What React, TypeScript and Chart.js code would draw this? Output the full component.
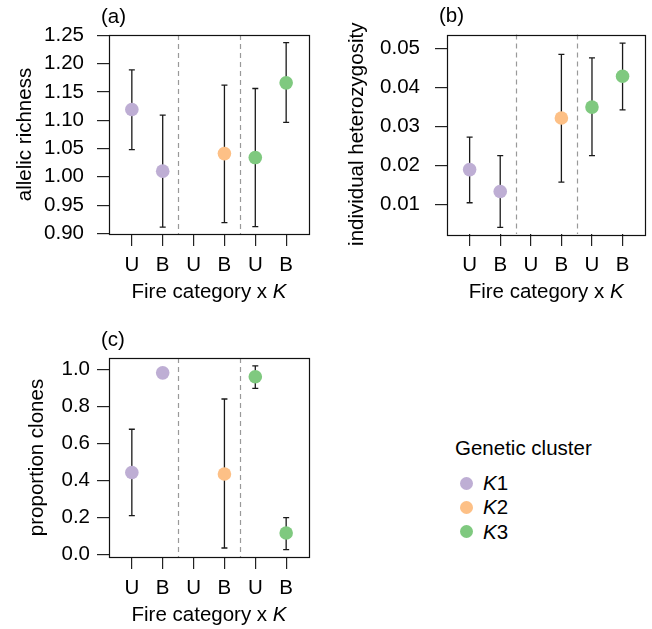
import React, { useEffect, useRef } from 'react';
import { Chart, registerables } from 'chart.js';
Chart.register(...registerables);

const FONT = '"Liberation Sans", Arial, Helvetica, sans-serif';
const FS = 20.5;

// shared x-axis
const positions = [1, 2, 3, 4, 5, 6];
const xLabels = ['U', 'B', 'U', 'B', 'U', 'B'];
const dividers = [2.5, 4.5];
const clusterNames = ['1', '2', '3'];
const clusterColors = ['#BEAED4', '#FDC086', '#7FC97F'];

// Panel (a) allelic richness
const aK1x = [1, 2];
const aK1mean = [1.119, 1.01];
const aK1lo = [1.048, 0.911];
const aK1hi = [1.189, 1.109];
const aK2x = [4];
const aK2mean = [1.041];
const aK2lo = [0.919];
const aK2hi = [1.162];
const aK3x = [5, 6];
const aK3mean = [1.034, 1.166];
const aK3lo = [0.912, 1.096];
const aK3hi = [1.156, 1.237];
const aYTicks = [0.9, 0.95, 1.0, 1.05, 1.1, 1.15, 1.2, 1.25];
const aYLabels = ['0.90', '0.95', '1.00', '1.05', '1.10', '1.15', '1.20', '1.25'];

// Panel (b) individual heterozygosity
const bK1x = [1, 2];
const bK1mean = [0.019, 0.0134];
const bK1lo = [0.0105, 0.0042];
const bK1hi = [0.0273, 0.0226];
const bK2x = [4];
const bK2mean = [0.0322];
const bK2lo = [0.0158];
const bK2hi = [0.0485];
const bK3x = [5, 6];
const bK3mean = [0.035, 0.0429];
const bK3lo = [0.0226, 0.0343];
const bK3hi = [0.0476, 0.0514];
const bYTicks = [0.01, 0.02, 0.03, 0.04, 0.05];
const bYLabels = ['0.01', '0.02', '0.03', '0.04', '0.05'];

// Panel (c) proportion clones
const cK1x = [1, 2];
const cK1mean = [0.443, 0.98];
const cK1lo = [0.21, null];
const cK1hi = [0.676, null];
const cK2x = [4];
const cK2mean = [0.435];
const cK2lo = [0.036];
const cK2hi = [0.839];
const cK3x = [5, 6];
const cK3mean = [0.959, 0.117];
const cK3lo = [0.896, 0.027];
const cK3hi = [1.018, 0.2];
const cYTicks = [0.0, 0.2, 0.4, 0.6, 0.8, 1.0];
const cYLabels = ['0.0', '0.2', '0.4', '0.6', '0.8', '1.0'];

type Series = { x: number[]; mean: number[]; lo: (number | null)[]; hi: (number | null)[] };

function makeDatasets(series: Series[]) {
  return series.map((s, i) => ({
    label: 'K' + clusterNames[i],
    data: s.x.map((xv, j) => ({ x: xv, y: s.mean[j], lo: s.lo[j], hi: s.hi[j] })),
    backgroundColor: clusterColors[i],
    borderWidth: 0,
    pointRadius: 6.8,
    pointHoverRadius: 6.8,
    showLine: false,
  }));
}

type PanelCfg = {
  left: number; top: number; width: number; height: number;
  pad: { left: number; top: number; right: number; bottom: number };
  yWidth: number; xHeight: number;
  yMin: number; yMax: number; yTicks: number[]; yLabels: string[]; yPad: number;
  letter: string; yTitle: string; yTitleOffset: number;
  series: Series[];
};

function decorPlugin(cfg: PanelCfg) {
  return {
    id: 'decor',
    beforeDatasetsDraw(chart: any) {
      const { ctx, chartArea: a, scales } = chart;
      const xs = scales.x, ys = scales.y;
      ctx.save();
      ctx.strokeStyle = '#999999';
      ctx.lineWidth = 1.2;
      ctx.setLineDash([5, 4]);
      dividers.forEach((d) => {
        const px = Math.round(xs.getPixelForValue(d)) + 0.5;
        ctx.beginPath();
        ctx.moveTo(px, a.top);
        ctx.lineTo(px, a.bottom);
        ctx.stroke();
      });
      ctx.setLineDash([]);
      ctx.strokeStyle = '#1a1a1a';
      ctx.lineWidth = 1.3;
      chart.data.datasets.forEach((ds: any) => {
        ds.data.forEach((p: any) => {
          if (p.lo == null || p.hi == null) return;
          const px = xs.getPixelForValue(p.x);
          const y1 = ys.getPixelForValue(p.lo);
          const y2 = ys.getPixelForValue(p.hi);
          ctx.beginPath();
          ctx.moveTo(px, y1);
          ctx.lineTo(px, y2);
          ctx.moveTo(px - 3, y1);
          ctx.lineTo(px + 3, y1);
          ctx.moveTo(px - 3, y2);
          ctx.lineTo(px + 3, y2);
          ctx.stroke();
        });
      });
      ctx.restore();
    },
    afterDraw(chart: any) {
      const { ctx, chartArea: a } = chart;
      ctx.save();
      ctx.strokeStyle = '#111';
      ctx.lineWidth = 1.2;
      ctx.strokeRect(Math.round(a.left) + 0.5, Math.round(a.top) + 0.5, Math.round(a.right - a.left), Math.round(a.bottom - a.top));
      ctx.fillStyle = '#000';
      // panel letter
      ctx.font = `${FS}px ${FONT}`;
      ctx.textAlign = 'left';
      ctx.textBaseline = 'middle';
      ctx.fillText(cfg.letter, a.left - 8, a.top - 18);
      // x title with italic K
      const t1 = 'Fire category x ';
      const w1 = ctx.measureText(t1).width;
      ctx.font = `italic ${FS}px ${FONT}`;
      const w2 = ctx.measureText('K').width;
      const cx = (a.left + a.right) / 2;
      const sx = cx - (w1 + w2) / 2;
      const ty = a.bottom + 58;
      ctx.font = `${FS}px ${FONT}`;
      ctx.fillText(t1, sx, ty);
      ctx.font = `italic ${FS}px ${FONT}`;
      ctx.fillText('K', sx + w1, ty);
      // y title
      ctx.font = `${FS}px ${FONT}`;
      ctx.translate(a.left + cfg.yTitleOffset, (a.top + a.bottom) / 2);
      ctx.rotate(-Math.PI / 2);
      ctx.textAlign = 'center';
      ctx.textBaseline = 'middle';
      ctx.fillText(cfg.yTitle, 0, 0);
      ctx.restore();
    },
  };
}

function Panel({ cfg }: { cfg: PanelCfg }) {
  const ref = useRef<HTMLCanvasElement>(null);
  useEffect(() => {
    if (!ref.current) return;
    const chart = new Chart(ref.current, {
      type: 'scatter',
      data: { datasets: makeDatasets(cfg.series) as any },
      options: {
        animation: false,
        responsive: false,
        devicePixelRatio: 1,
        events: [],
        layout: { padding: cfg.pad },
        plugins: { legend: { display: false }, tooltip: { enabled: false } },
        scales: {
          x: {
            type: 'linear',
            min: 0.26,
            max: 6.74,
            afterBuildTicks: (s: any) => { s.ticks = positions.map((v) => ({ value: v })); },
            afterFit: (s: any) => { s.height = cfg.xHeight; },
            ticks: {
              autoSkip: false,
              maxRotation: 0,
              padding: 7,
              color: '#000',
              font: { family: FONT, size: FS },
              callback: (v: any) => xLabels[positions.indexOf(Number(v))] ?? '',
            },
            grid: { drawOnChartArea: false, drawTicks: true, tickLength: 12, color: '#222', lineWidth: 1.2 },
            border: { display: false },
          },
          y: {
            type: 'linear',
            min: cfg.yMin,
            max: cfg.yMax,
            afterBuildTicks: (s: any) => { s.ticks = cfg.yTicks.map((v) => ({ value: v })); },
            afterFit: (s: any) => { s.width = cfg.yWidth; },
            ticks: {
              autoSkip: false,
              padding: cfg.yPad,
              color: '#000',
              font: { family: FONT, size: FS },
              callback: (v: any, i: number) => cfg.yLabels[i] ?? '',
            },
            grid: { drawOnChartArea: false, drawTicks: true, tickLength: 12, color: '#222', lineWidth: 1.2 },
            border: { display: false },
          },
        },
      },
      plugins: [decorPlugin(cfg)],
    });
    return () => chart.destroy();
  }, [cfg]);
  return (
    <canvas
      ref={ref}
      width={cfg.width}
      height={cfg.height}
      style={{ position: 'absolute', left: cfg.left, top: cfg.top, width: cfg.width, height: cfg.height }}
    />
  );
}

const panelA: PanelCfg = {
  left: 0, top: 0, width: 326, height: 314,
  pad: { left: 0, top: 35, right: 17, bottom: 0 },
  yWidth: 109, xHeight: 80,
  yMin: 0.899, yMax: 1.2505, yTicks: aYTicks, yLabels: aYLabels, yPad: 13,
  letter: '(a)', yTitle: 'allelic richness', yTitleOffset: -84,
  series: [
    { x: aK1x, mean: aK1mean, lo: aK1lo, hi: aK1hi },
    { x: aK2x, mean: aK2mean, lo: aK2lo, hi: aK2hi },
    { x: aK3x, mean: aK3mean, lo: aK3lo, hi: aK3hi },
  ],
};

const panelB: PanelCfg = {
  left: 326, top: 0, width: 326, height: 314,
  pad: { left: 0, top: 34.5, right: 6, bottom: 0 },
  yWidth: 121, xHeight: 80,
  yMin: 0.0025, yMax: 0.0536, yTicks: bYTicks, yLabels: bYLabels, yPad: 15,
  letter: '(b)', yTitle: 'individual heterozygosity', yTitleOffset: -90,
  series: [
    { x: bK1x, mean: bK1mean, lo: bK1lo, hi: bK1hi },
    { x: bK2x, mean: bK2mean, lo: bK2lo, hi: bK2hi },
    { x: bK3x, mean: bK3mean, lo: bK3lo, hi: bK3hi },
  ],
};

const panelC: PanelCfg = {
  left: 0, top: 320, width: 326, height: 309,
  pad: { left: 0, top: 38, right: 17, bottom: 0 },
  yWidth: 109, xHeight: 72,
  yMin: -0.0125, yMax: 1.06, yTicks: cYTicks, yLabels: cYLabels, yPad: 7,
  letter: '(c)', yTitle: 'proportion clones', yTitleOffset: -72,
  series: [
    { x: cK1x, mean: cK1mean, lo: cK1lo, hi: cK1hi },
    { x: cK2x, mean: cK2mean, lo: cK2lo, hi: cK2hi },
    { x: cK3x, mean: cK3mean, lo: cK3lo, hi: cK3hi },
  ],
};

const legendTitle = 'Genetic cluster';
const legendYs = [483, 507, 531.5];

export default function App() {
  return (
    <div style={{ position: 'absolute', left: 0, top: 0, width: 652, height: 629, background: '#fff', overflow: 'hidden', fontFamily: FONT }}>
      <Panel cfg={panelA} />
      <Panel cfg={panelB} />
      <Panel cfg={panelC} />
      <div style={{ position: 'absolute', left: 455, top: 436, fontSize: FS, lineHeight: '24px', color: '#000', whiteSpace: 'nowrap' }}>
        {legendTitle}
      </div>
      {clusterNames.map((n, i) => (
        <React.Fragment key={n}>
          <div style={{ position: 'absolute', left: 466 - 6.5, top: legendYs[i] - 6.5, width: 13, height: 13, borderRadius: '50%', background: clusterColors[i] }} />
          <div style={{ position: 'absolute', left: 483, top: legendYs[i] - 12, fontSize: FS, lineHeight: '24px', color: '#000', whiteSpace: 'nowrap' }}>
            <i>K</i>{n}
          </div>
        </React.Fragment>
      ))}
    </div>
  );
}
